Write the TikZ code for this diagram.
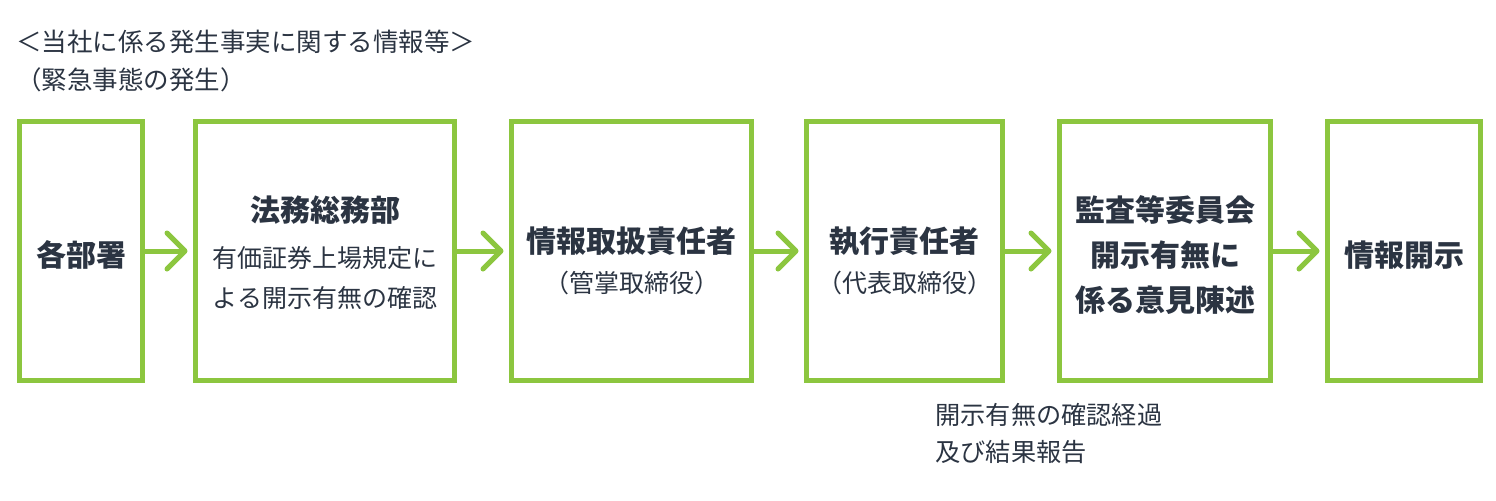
\documentclass[tikz,border=0pt]{standalone}
\usepackage{fontspec}
\newfontfamily\jpfont{Noto Sans CJK JP}
\usetikzlibrary{arrows.meta}
\definecolor{flowgreen}{HTML}{8CC63F}
\definecolor{flowink}{HTML}{2B3442}
\tikzset{
  flowbox/.style={draw=flowgreen, line width=2.5pt, minimum height=129.5pt, inner sep=0pt},
  flowarrow/.style={draw=flowgreen, line width=2.5pt, shorten >=2.75pt,
    -{Straight Barb[length=9pt,width=18pt,round]}},
  boxtext/.style={align=center, inner sep=0pt, text=flowink},
  note/.style={align=left, inner sep=0pt, text=flowink, anchor=west,
    font=\jpfont\fontsize{12.6}{18.5}\selectfont}
}
\newcommand\boldline{\bfseries\fontsize{15}{22.5}\selectfont}
\newcommand\plainline{\fontsize{12.5}{20}\selectfont}
\begin{document}
\begin{tikzpicture}[x=0.5pt, y=-0.5pt, font=\jpfont]
\useasboundingbox (0,0) rectangle (1496,500);
% heading
\node[note, font=\jpfont\fontsize{12.75}{19}\selectfont] (heading) at (16,61)
  {＜当社に係る発生事実に関する情報等＞\\（緊急事態の発生）};
% boxes
\node[flowbox, minimum width=61.5pt] (kakubu) at (81,251) {};
\node[flowbox, minimum width=129.5pt] (houmu) at (325,251) {};
\node[flowbox, minimum width=120pt] (toriatsukai) at (631.5,251) {};
\node[flowbox, minimum width=98pt] (shikkou) at (904.5,251) {};
\node[flowbox, minimum width=105.5pt] (kansa) at (1165,251) {};
\node[flowbox, minimum width=76.5pt] (kaiji) at (1404,251) {};
% box texts
\node[boxtext, font=\jpfont\boldline] (kakubu text) at (81,255) {各部署};
\node[boxtext, font=\jpfont\plainline] (houmu text) at (325,253)
  {{\boldline 法務総務部}\\[3pt]有価証券上場規定に\\よる開示有無の確認};
\node[boxtext, font=\jpfont\plainline] (toriatsukai text) at (631.5,261)
  {{\boldline 情報取扱責任者}\\（管掌取締役）};
\node[boxtext, font=\jpfont\plainline] (shikkou text) at (904.5,261)
  {{\boldline 執行責任者}\\（代表取締役）};
\node[boxtext, font=\jpfont\boldline] (kansa text) at (1165,255)
  {監査等委員会\\開示有無に\\係る意見陳述};
\node[boxtext, font=\jpfont\boldline] (kaiji text) at (1404,255) {情報開示};
% arrows
\draw[flowarrow] (kakubu) -- (houmu);
\draw[flowarrow] (houmu) -- (toriatsukai);
\draw[flowarrow] (toriatsukai) -- (shikkou);
\draw[flowarrow] (shikkou) -- (kansa);
\draw[flowarrow] (kansa) -- (kaiji);
% report note
\node[note] (report) at (935,433.5) {開示有無の確認経過\\及び結果報告};
\end{tikzpicture}
\end{document}
